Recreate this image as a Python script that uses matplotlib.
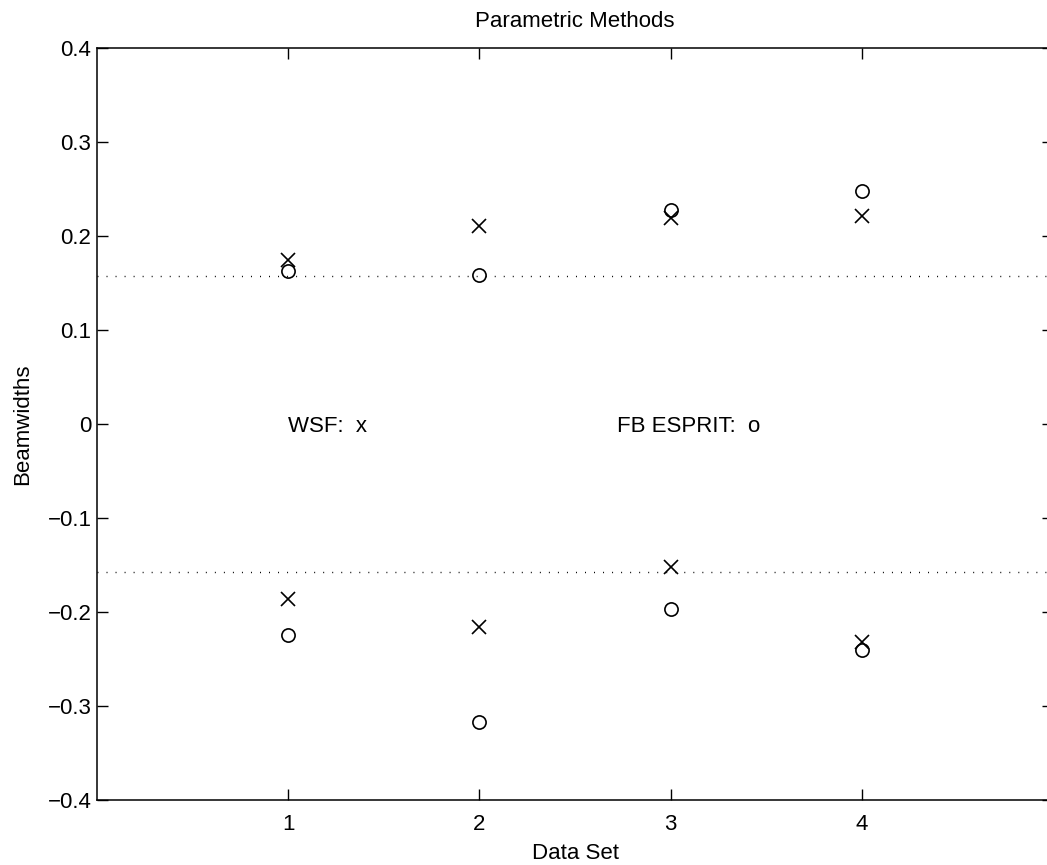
import numpy as np
import matplotlib.pyplot as plt

plt.rcParams['font.family'] = ['Liberation Sans', 'DejaVu Sans']

# data
data_set = [1, 2, 3, 4]
wsf_upper = [0.174, 0.211, 0.219, 0.221]
wsf_lower = [-0.186, -0.216, -0.152, -0.232]
esprit_upper = [0.163, 0.159, 0.228, 0.248]
esprit_lower = [-0.224, -0.317, -0.197, -0.240]
true_width = 0.157

fs = 16

fig = plt.figure(figsize=(10.47, 8.65), dpi=100)
ax = fig.add_axes([97/1047, 65/865, 956/1047, 752/865])

# dotted reference lines
ax.plot([0, 5], [true_width, true_width], color='k', lw=1.0, ls=(0, (0.7, 5.8)))
ax.plot([0, 5], [-true_width, -true_width], color='k', lw=1.0, ls=(0, (0.7, 5.8)))

ax.plot(data_set, wsf_upper, 'x', color='k', ms=9.5, mew=1.2)
ax.plot(data_set, wsf_lower, 'x', color='k', ms=9.5, mew=1.2)
ax.plot(data_set, esprit_upper, 'o', color='k', mfc='none', ms=9.5, mew=1.2)
ax.plot(data_set, esprit_lower, 'o', color='k', mfc='none', ms=9.5, mew=1.2)

ax.text(1, -0.003, 'WSF:  x', fontsize=fs, va='center', ha='left')
ax.text(2.72, -0.003, 'FB ESPRIT:  o', fontsize=fs, va='center', ha='left')

ax.set_xlim(0, 5)
ax.set_ylim(-0.4, 0.4)
ax.set_xticks([1, 2, 3, 4])
ax.set_xticklabels(['1', '2', '3', '4'])
ax.set_yticks(np.arange(-0.4, 0.41, 0.1))
ax.set_yticklabels(['\u22120.4', '\u22120.3', '\u22120.2', '\u22120.1', '0', '0.1', '0.2', '0.3', '0.4'])
ax.tick_params(direction='in', length=8, width=1, labelsize=fs, top=True, right=True)
ax.tick_params(axis='x', pad=10)
ax.tick_params(axis='y', pad=4)
for s in ax.spines.values():
    s.set_linewidth(1.1)

ax.set_title('Parametric Methods', fontsize=fs, pad=15)
ax.set_xlabel('Data Set', fontsize=fs, labelpad=6)
ax.set_ylabel('Beamwidths', fontsize=fs, labelpad=10)

fig.savefig('out.png', dpi=100)
